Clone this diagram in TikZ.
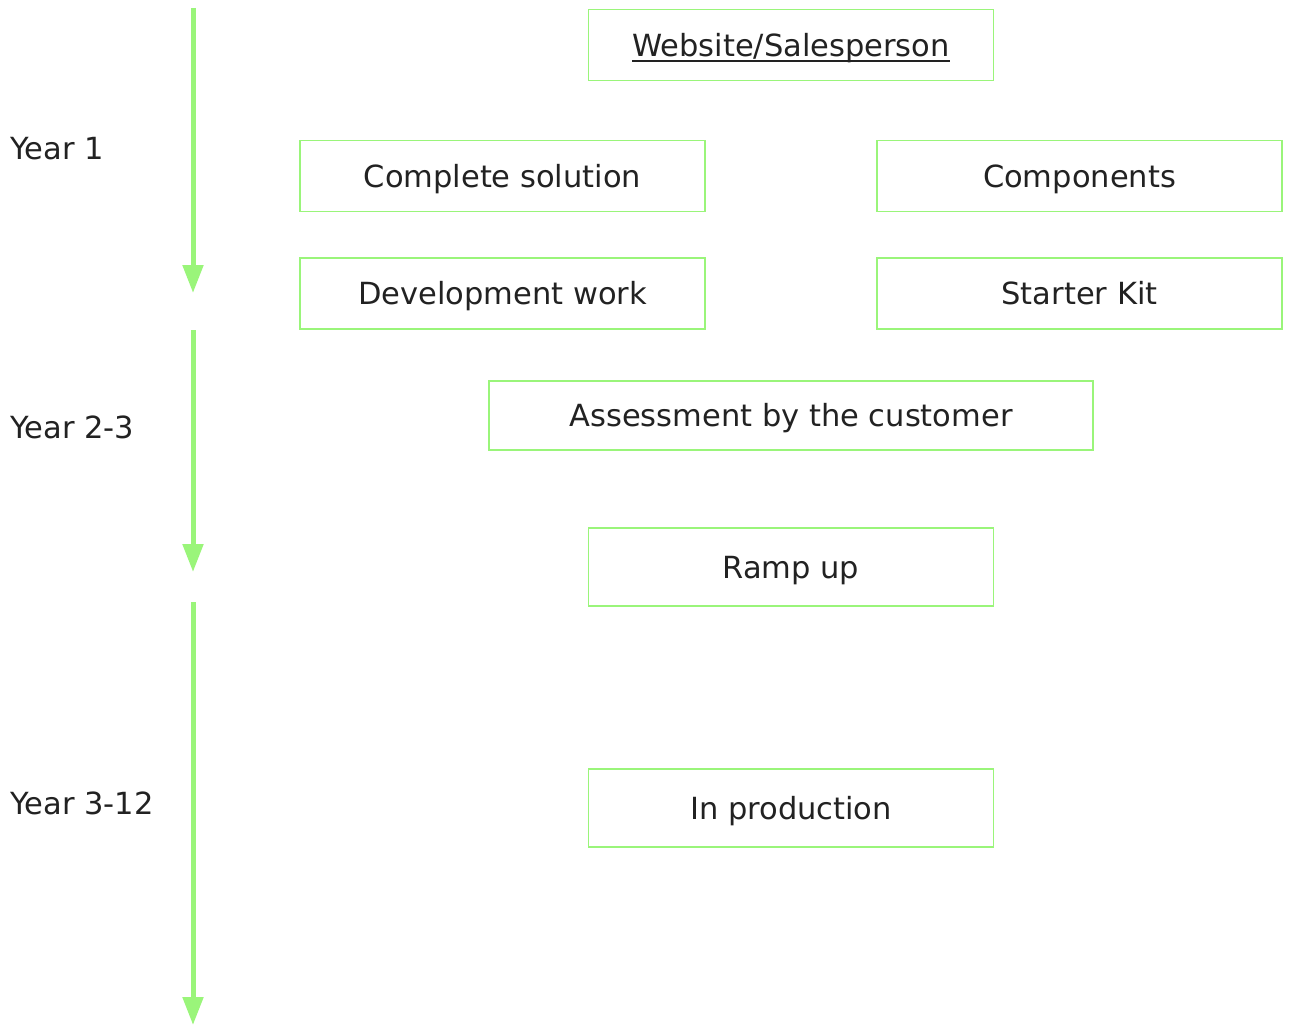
\documentclass[tikz,border=0pt]{standalone}
\usepackage{fontspec}
\setmainfont{DejaVu Sans}
\usetikzlibrary{arrows.meta}
\definecolor{lg}{HTML}{9AF57A}
\definecolor{tx}{HTML}{222222}
\newcommand{\myul}[1]{\setbox0=\hbox{#1}\leavevmode\rlap{\raisebox{-6pt}{\rule{\wd0}{2pt}}}\box0}
\begin{document}
\begin{tikzpicture}[x=1pt,y=-1pt,
  box/.style={draw=lg,line width=1.5pt,rectangle,inner sep=0pt,minimum width=#1,minimum height=71pt,text=tx,text height=22.5pt,text depth=0pt,font=\fontsize{30.5}{35}\selectfont},
  box/.default=405pt,
  lab/.style={anchor=west,text=tx,inner sep=0pt,text height=22.5pt,text depth=0pt,font=\fontsize{30.5}{35}\selectfont},
  tl/.style={draw=lg,line width=5pt,-{Triangle[width=20pt,length=28pt]}}]
\useasboundingbox (0,0) rectangle (1289,1025);
\fill[white] (0,0) rectangle (1289,1025);
\node[box] (web) at (791,45) {\myul{Website/Salesperson}};
\node[box] (cs) at (502.5,176) {Complete solution};
\node[box] (comp) at (1079.5,176) {Components};
\node[box] (dev) at (502.5,293.5) {Development work};
\node[box] (kit) at (1079.5,293.5) {Starter Kit};
\node[box=604pt,minimum height=69pt] (ass) at (791,415.5) {Assessment by the customer};
\node[box,minimum height=78pt] (ramp) at (791,567) {Ramp up};
\node[box,minimum height=78pt] (prod) at (791,808) {In production};
\node[lab] (y1) at (10,148) {Year 1};
\node[lab] (y2) at (10,427) {Year 2-3};
\node[lab] (y3) at (10,803) {Year 3-12};
\coordinate (a1s) at (193,8); \coordinate (a1e) at (193,293);
\coordinate (a2s) at (193,330); \coordinate (a2e) at (193,572);
\coordinate (a3s) at (193,602); \coordinate (a3e) at (193,1025);
\draw[tl] (a1s) -- (a1e);
\draw[tl] (a2s) -- (a2e);
\draw[tl] (a3s) -- (a3e);
\end{tikzpicture}
\end{document}
